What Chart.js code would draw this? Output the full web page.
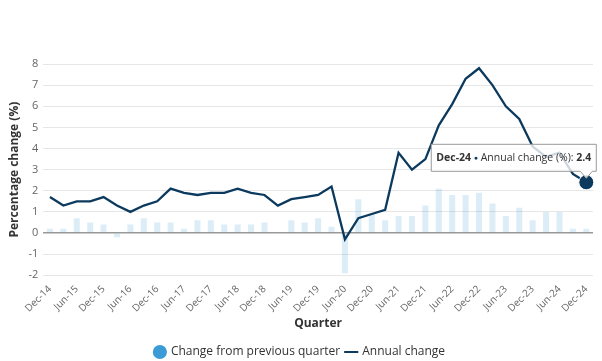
<!DOCTYPE html>
<html>
<head>
<meta charset="utf-8">
<script src="https://cdn.jsdelivr.net/npm/chart.js@4.4.1/dist/chart.umd.min.js"></script>
<style>
  html, body { margin: 0; padding: 0; background: #fff; }
  #wrap { width: 602px; height: 361px; }
</style>
</head>
<body>
<div id="wrap"><canvas id="myChart"></canvas></div>
<script>
const quarters = [
  "Dec-14", "Mar-15", "Jun-15", "Sep-15", "Dec-15", "Mar-16", "Jun-16", "Sep-16",
  "Dec-16", "Mar-17", "Jun-17", "Sep-17", "Dec-17", "Mar-18", "Jun-18", "Sep-18",
  "Dec-18", "Mar-19", "Jun-19", "Sep-19", "Dec-19", "Mar-20", "Jun-20", "Sep-20",
  "Dec-20", "Mar-21", "Jun-21", "Sep-21", "Dec-21", "Mar-22", "Jun-22", "Sep-22",
  "Dec-22", "Mar-23", "Jun-23", "Sep-23", "Dec-23", "Mar-24", "Jun-24", "Sep-24",
  "Dec-24",
];
const quarterlyChange = [
  0.2, 0.2, 0.7, 0.5, 0.4, -0.2, 0.4, 0.7,
  0.5, 0.5, 0.2, 0.6, 0.6, 0.4, 0.4, 0.4,
  0.5, 0.0, 0.6, 0.5, 0.7, 0.3, -1.9, 1.6,
  0.9, 0.6, 0.8, 0.8, 1.3, 2.1, 1.8, 1.8,
  1.9, 1.4, 0.8, 1.2, 0.6, 1.0, 1.0, 0.2,
  0.2,
];
const annualChange = [
  1.7, 1.3, 1.5, 1.5, 1.7, 1.3, 1.0, 1.3,
  1.5, 2.1, 1.9, 1.8, 1.9, 1.9, 2.1, 1.9,
  1.8, 1.3, 1.6, 1.7, 1.8, 2.2, -0.3, 0.7,
  0.9, 1.1, 3.8, 3.0, 3.5, 5.1, 6.1, 7.3,
  7.8, 7.0, 6.0, 5.4, 4.1, 3.6, 3.8, 2.8,
  2.4,
];
const yTicks = [-2, -1, 0, 1, 2, 3, 4, 5, 6, 7, 8];

const navy = "#0c3a5e";
const blue = "#3b9bd6";
const font = "'Open Sans', sans-serif";
const lastIdx = annualChange.length - 1;

// fixed tooltip on the last annual point
const fixedTip = {
  id: "fixedTip",
  afterDatasetsDraw(chart) {
    const pt = chart.getDatasetMeta(1).data[lastIdx];
    const ctx = chart.ctx;
    const bold = "bold 10.5px " + font;
    const normal = "10.5px " + font;
    const parts = [
      { t: quarters[lastIdx], f: bold, c: "#333" },
      { t: " ", f: normal, c: "#333" },
      { t: "\u25CF", f: "7px " + font, c: navy },
      { t: " Annual change (%): ", f: normal, c: "#333" },
      { t: String(annualChange[lastIdx]), f: bold, c: "#333" },
    ];
    ctx.save();
    let w = 0;
    parts.forEach((p) => {
      ctx.font = p.f;
      p.w = ctx.measureText(p.t).width;
      w += p.w;
    });
    const boxW = w + 10;
    const boxH = 27;
    const right = pt.x + 10;
    const bottom = pt.y - 11;
    const left = right - boxW;
    const top = bottom - boxH;

    ctx.beginPath();
    ctx.moveTo(left, top);
    ctx.lineTo(right, top);
    ctx.lineTo(right, bottom);
    ctx.lineTo(right - 4, bottom);
    ctx.lineTo(pt.x, pt.y - 4);
    ctx.lineTo(right - 16, bottom);
    ctx.lineTo(left, bottom);
    ctx.closePath();
    ctx.fillStyle = "rgba(255,255,255,0.8)";
    ctx.fill();
    ctx.strokeStyle = "#999";
    ctx.lineWidth = 1;
    ctx.stroke();

    let x = left + 5;
    ctx.textBaseline = "middle";
    parts.forEach((p) => {
      ctx.font = p.f;
      ctx.fillStyle = p.c;
      ctx.fillText(p.t, x, top + boxH / 2 + 0.5);
      x += p.w;
    });
    ctx.restore();
  },
};

const ctx = document.getElementById("myChart").getContext("2d");
const myChart = new Chart(ctx, {
  type: "bar",
  data: {
    labels: quarters,
    datasets: [
      {
        type: "bar",
        label: "Change from previous quarter",
        data: quarterlyChange,
        backgroundColor: "rgba(59,155,214,0.18)",
        borderWidth: 0,
        barPercentage: 0.5,
        categoryPercentage: 0.9,
        order: 2,
      },
      {
        type: "line",
        label: "Annual change",
        data: annualChange,
        borderColor: navy,
        borderWidth: 2.3,
        tension: 0,
        pointRadius: (c) => (c.dataIndex === lastIdx ? 7.5 : 0),
        pointBackgroundColor: navy,
        pointBorderColor: "#fff",
        pointBorderWidth: 1,
        order: 1,
      },
    ],
  },
  options: {
    responsive: true,
    maintainAspectRatio: false,
    animation: false,
    layout: { padding: { left: 7, right: 9, top: 64, bottom: -7 } },
    scales: {
      x: {
        offset: true,
        grid: { display: false },
        border: { display: false },
        ticks: {
          autoSkip: false,
          maxRotation: 45,
          minRotation: 45,
          color: "#666",
          font: { family: font, size: 10 },
          padding: 0,
          callback: function (value, index) {
            return index % 2 === 0 ? quarters[index] : "";
          },
        },
        title: {
          display: true,
          text: "Quarter",
          color: "#333",
          font: { family: font, size: 12, weight: "bold" },
          padding: { top: 2, bottom: 9 },
        },
      },
      y: {
        min: yTicks[0],
        max: yTicks[yTicks.length - 1],
        afterBuildTicks: (axis) => {
          axis.ticks = yTicks.map((v) => ({ value: v }));
        },
        grid: {
          color: (c) => (c.tick && c.tick.value === 0 ? "#999" : "#e6e6e6"),
          lineWidth: (c) => (c.tick && c.tick.value === 0 ? 1.5 : 1),
          drawTicks: false,
        },
        border: { display: false },
        ticks: {
          color: "#666",
          font: { family: font, size: 11 },
          padding: 5,
        },
        title: {
          display: true,
          text: "Percentage change (%)",
          color: "#333",
          font: { family: font, size: 12, weight: "bold" },
          padding: { top: 0, bottom: 2 },
        },
      },
    },
    plugins: {
      tooltip: { enabled: false },
      legend: {
        position: "bottom",
        labels: {
          usePointStyle: true,
          boxWidth: 10,
          boxHeight: 10,
          padding: 6,
          color: "#333",
          font: { family: font, size: 12 },
          generateLabels: function () {
            return [
              { text: "Change from previous quarter", fillStyle: blue, strokeStyle: blue, lineWidth: 0, pointStyle: "circle", datasetIndex: 0, fontColor: "#333" },
              { text: "Annual change", fillStyle: navy, strokeStyle: navy, lineWidth: 2, pointStyle: "line", datasetIndex: 1, fontColor: "#333" },
            ];
          },
        },
      },
    },
  },
  plugins: [fixedTip],
});
</script>
</body>
</html>
